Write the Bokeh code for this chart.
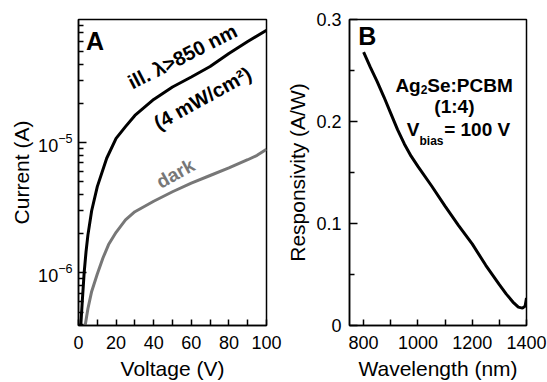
import math
from bokeh.plotting import figure
from bokeh.layouts import row
from bokeh.models import FixedTicker, LogTickFormatter, Range1d, Label
from bokeh.embed import file_html
from bokeh.resources import INLINE

# ---------------- data: panel A (I-V) ----------------
voltage_ill = [1.2, 2, 3, 4, 5, 7, 10, 15, 20, 25, 30, 40, 50, 60, 70, 80, 90, 100]
current_ill = [3.9e-7, 6.0e-7, 1.0e-6, 1.45e-6, 1.95e-6, 3.0e-6, 4.6e-6, 7.6e-6, 1.08e-5, 1.33e-5,
               1.62e-5, 2.15e-5, 2.68e-5, 3.2e-5, 3.85e-5, 4.85e-5, 6.0e-5, 7.3e-5]
voltage_dark = [3.5, 5, 7, 10, 13, 16, 20, 25, 30, 40, 50, 60, 70, 80, 90, 95, 100]
current_dark = [3.9e-7, 5.3e-7, 7.2e-7, 9.8e-7, 1.3e-6, 1.65e-6, 2.05e-6, 2.55e-6, 2.95e-6, 3.55e-6,
                4.2e-6, 4.9e-6, 5.6e-6, 6.4e-6, 7.4e-6, 8.0e-6, 8.9e-6]
volt_ticks = [0, 20, 40, 60, 80, 100]
volt_minor = [10, 30, 50, 70, 90]
curr_ticks = [1e-6, 1e-5]

# ---------------- data: panel B (responsivity) ----------------
wavelength = [800, 825, 850, 875, 900, 925, 950, 975, 1000, 1050, 1100, 1150, 1200, 1250, 1300,
              1325, 1350, 1370, 1385, 1395, 1400]
responsivity = [0.268, 0.253, 0.239, 0.224, 0.208, 0.192, 0.178, 0.166, 0.156, 0.137, 0.117, 0.098,
                0.080, 0.059, 0.040, 0.031, 0.023, 0.018, 0.017, 0.019, 0.027]
wl_ticks = [800, 1000, 1200, 1400]
wl_minor = [900, 1100, 1300]
resp_ticks = [0, 0.1, 0.2, 0.3]
resp_minor = [0.05, 0.15, 0.25]

FONT = "Liberation Sans"
GRAY = "#777777"


def style(p):
    p.grid.visible = False
    p.outline_line_color = "black"
    p.outline_line_width = 1.5
    p.outline_line_alpha = 1.0
    p.background_fill_color = "white"
    p.border_fill_color = "white"
    for ax in p.axis:
        ax.axis_line_color = "black"
        ax.axis_line_width = 1.5
        ax.major_tick_in = 8
        ax.major_tick_out = 0
        ax.minor_tick_in = 5
        ax.minor_tick_out = 0
        ax.major_tick_line_color = "black"
        ax.major_tick_line_width = 1.5
        ax.minor_tick_line_color = "black"
        ax.minor_tick_line_width = 1.5
        ax.major_label_text_font = FONT
        ax.major_label_text_font_size = "18px"
        ax.major_label_text_color = "black"
        ax.axis_label_text_font = FONT
        ax.axis_label_text_font_size = "21px"
        ax.axis_label_text_font_style = "normal"
        ax.axis_label_text_color = "black"


def label(p, x, y, text, size, angle=0.0, color="black", align="center", baseline="middle"):
    p.add_layout(Label(x=x, y=y, text=text, angle=angle, angle_units="deg",
                       text_font=FONT, text_font_style="bold", text_font_size=size,
                       text_align=align, text_baseline=baseline, text_color=color))


# ---------------- panel A ----------------
pA = figure(width=283, height=382, y_axis_type="log",
            x_range=Range1d(0, 100), y_range=Range1d(3.94e-7, 8.85e-5),
            output_backend="svg", toolbar_location=None,
            min_border_left=78, min_border_right=17, min_border_top=19, min_border_bottom=55)
style(pA)
pA.xaxis.ticker = FixedTicker(ticks=volt_ticks, minor_ticks=volt_minor)
pA.xaxis.major_tick_in = 6
pA.xaxis.minor_tick_in = 6
pA.yaxis.ticker = FixedTicker(ticks=curr_ticks,
                              minor_ticks=[m * 10.0 ** e for e in (-7, -6, -5) for m in range(2, 10)])
pA.yaxis.formatter = LogTickFormatter()
pA.xaxis.axis_label = "Voltage (V)"
pA.yaxis.axis_label = "Current (A)"
pA.xaxis.major_label_standoff = 10
pA.yaxis.major_label_standoff = 6
pA.xaxis.axis_label_standoff = 5
pA.yaxis.axis_label_standoff = 2

pA.line(voltage_ill, current_ill, line_color="black", line_width=3)
pA.line(voltage_dark, current_dark, line_color=GRAY, line_width=3)

label(pA, 8.8, 6.0e-5, "A", "25px")
label(pA, 55.3, 4.6e-5, "ill. λ>850 nm", "20px", angle=27)
label(pA, 66.0, 2.2e-5, "(4 mW/cm²)", "20px", angle=29)
label(pA, 51.6, 5.8e-6, "dark", "19px", angle=29, color=GRAY)

# ---------------- panel B ----------------
pB = figure(width=264, height=382,
            x_range=Range1d(748, 1400), y_range=Range1d(0, 0.3),
            output_backend="svg", toolbar_location=None,
            min_border_left=54, min_border_right=21, min_border_top=19, min_border_bottom=55)
style(pB)
pB.xaxis.ticker = FixedTicker(ticks=wl_ticks, minor_ticks=wl_minor)
pB.xaxis.major_tick_in = 6
pB.xaxis.minor_tick_in = 6
pB.yaxis.ticker = FixedTicker(ticks=resp_ticks, minor_ticks=resp_minor)
pB.yaxis.major_label_overrides = {0: "0", 0.1: "0.1", 0.2: "0.2", 0.3: "0.3"}
pB.xaxis.axis_label = "Wavelength (nm)"
pB.yaxis.axis_label = "Responsivity (A/W)"
pB.xaxis.major_label_standoff = 10
pB.yaxis.major_label_standoff = 8
pB.xaxis.axis_label_standoff = 5
pB.yaxis.axis_label_standoff = 4

pB.line(wavelength, responsivity, line_color="black", line_width=3)

label(pB, 813.8, 0.2834, "B", "25px")
label(pB, 1010.3, 0.2357, "Ag", "19px", align="right", baseline="alphabetic")
label(pB, 1010.3, 0.2313, "2", "12px", align="left", baseline="alphabetic")
label(pB, 1034.5, 0.2357, "Se:PCBM", "19px", align="left", baseline="alphabetic")
label(pB, 1134.5, 0.2143, "(1:4)", "19px", align="center", baseline="alphabetic")
label(pB, 1005.9, 0.1926, "V", "19px", align="right", baseline="alphabetic")
label(pB, 1005.9, 0.1805, "bias", "12px", align="left", baseline="alphabetic")
label(pB, 1096.6, 0.1926, "= 100 V", "19px", align="left", baseline="alphabetic")

layout = row(pA, pB)
open("out.html", "w").write(file_html(layout, INLINE))
